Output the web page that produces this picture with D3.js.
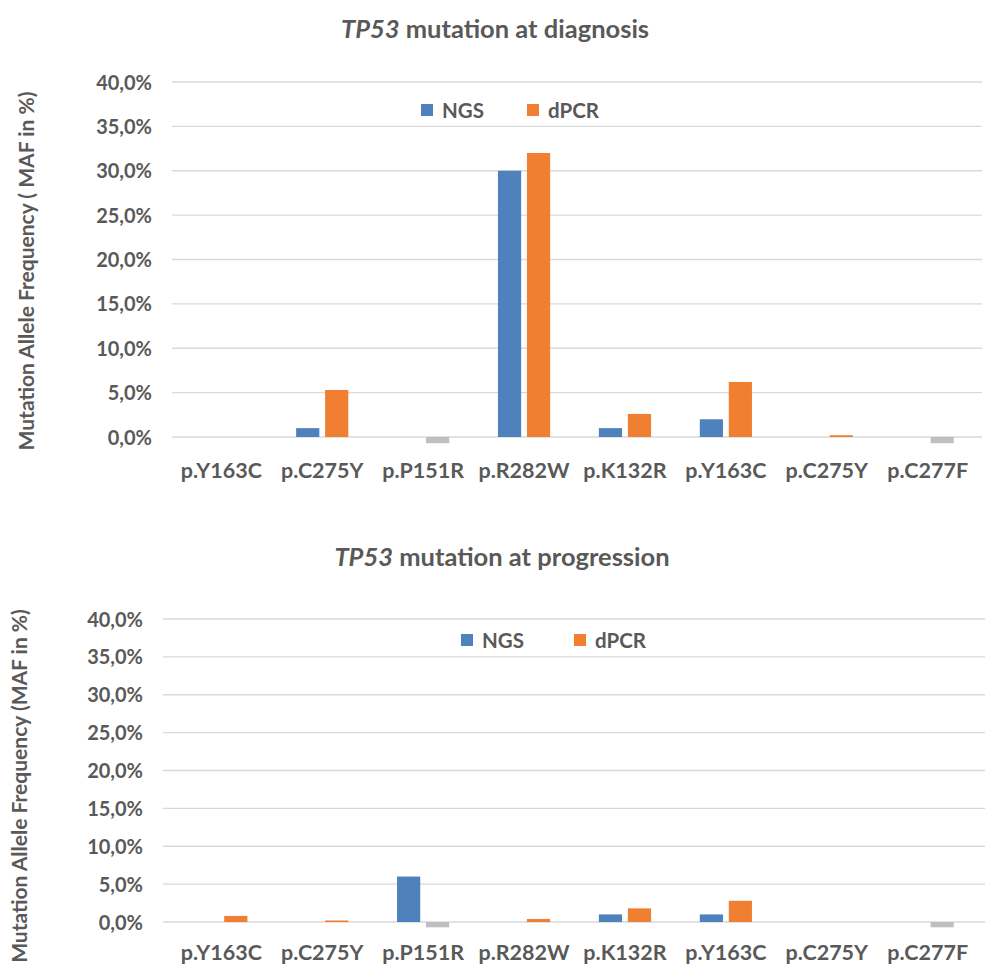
<!DOCTYPE html>
<html>
<head>
<meta charset="utf-8">
<script src="https://cdn.jsdelivr.net/npm/d3@7"></script>
<style>
  html, body { margin: 0; padding: 0; background: #ffffff; }
  svg { display: block; }
  text { font-family: Lato, "Open Sans", sans-serif; font-weight: 700; fill: #595959; }
</style>
</head>
<body>
<svg id="chart" width="989" height="964"></svg>
<script>
// Mutations, in the order shown along the x axis (the same mutation may appear twice)
const categories = ["p.Y163C", "p.C275Y", "p.P151R", "p.R282W", "p.K132R", "p.Y163C", "p.C275Y", "p.C277F"];
const seriesNames = ["NGS", "dPCR"];

// MAF in %, at diagnosis (negative dPCR value = not detected, drawn grey)
const diagnosisNGS  = [0, 1.0, 0, 30.0, 1.0, 2.0, 0, 0];
const diagnosisDPCR = [0, 5.3, -0.7, 32.0, 2.6, 6.2, 0.2, -0.7];

// MAF in %, at progression
const progressionNGS  = [0, 0, 6.0, 0, 1.0, 1.0, 0, 0];
const progressionDPCR = [0.8, 0.2, -0.7, 0.4, 1.8, 2.8, 0, -0.7];

const yTicks = [0, 5, 10, 15, 20, 25, 30, 35, 40];

const colors = { NGS: "#4f81bd", dPCR: "#f07f32", neg: "#bfbfbf" };
const fmt = v => d3.format(".1f")(v).replace(".", ",") + "%";

const svg = d3.select("#chart");

function drawPanel(cfg) {
  const g = svg.append("g");
  const x0 = d3.scaleBand()
    .domain(d3.range(categories.length))
    .range([172, 977])
    .paddingInner(0.483)
    .paddingOuter(0.23);
  const x1 = d3.scaleBand()
    .domain(seriesNames)
    .range([0, x0.bandwidth()])
    .paddingInner(0.2);
  const y = d3.scaleLinear().domain([0, 40]).range(cfg.yRange);

  // horizontal gridlines
  g.append("g").selectAll("line").data(yTicks).join("line")
    .attr("x1", cfg.gridX[0]).attr("x2", cfg.gridX[1])
    .attr("y1", d => y(d)).attr("y2", d => y(d))
    .attr("stroke", "#d9d9d9").attr("stroke-width", 1.3);

  // y axis labels
  const yAxis = d3.axisLeft(y).tickValues(yTicks).tickFormat(fmt).tickSize(0).tickPadding(0);
  const ya = g.append("g").attr("transform", `translate(${cfg.yLabelX},0)`).call(yAxis);
  ya.select(".domain").remove();
  ya.selectAll("text").attr("font-size", 20).attr("font-family", null).attr("fill", "#595959")
    .attr("dy", "0.35em");

  // x axis labels
  const xAxis = d3.axisBottom(x0).tickFormat(i => categories[i]).tickSize(0).tickPadding(0);
  const xa = g.append("g").attr("transform", `translate(0,${cfg.xLabelY})`).call(xAxis);
  xa.select(".domain").remove();
  xa.selectAll("text").attr("font-size", 21.5).attr("font-family", null).attr("fill", "#595959")
    .attr("dy", "0.35em");

  // bars
  const rows = categories.map((c, i) => ({ i, NGS: cfg.ngs[i], dPCR: cfg.dpcr[i] }));
  const groups = g.append("g").selectAll("g").data(rows).join("g")
    .attr("transform", d => `translate(${x0(d.i)},0)`);
  groups.selectAll("rect")
    .data(d => seriesNames.map(k => ({ key: k, value: d[k] })).filter(d => d.value !== 0))
    .join("rect")
    .attr("x", d => x1(d.key))
    .attr("width", x1.bandwidth())
    .attr("y", d => y(Math.max(0, d.value)))
    .attr("height", d => Math.abs(y(d.value) - y(0)))
    .attr("fill", d => d.value < 0 ? colors.neg : colors[d.key]);

  // title
  const t = g.append("text")
    .attr("x", cfg.titleX).attr("y", cfg.titleY)
    .attr("text-anchor", "middle").attr("dominant-baseline", "central")
    .attr("font-size", 25.5);
  t.append("tspan").attr("font-style", "italic").text("TP53");
  t.append("tspan").text(" " + cfg.title);

  // y axis title
  g.append("text")
    .attr("transform", `translate(${cfg.axisTitle[0]},${cfg.axisTitle[1]}) rotate(-90)`)
    .attr("text-anchor", "middle").attr("dominant-baseline", "central")
    .attr("font-size", 21)
    .text(cfg.axisTitleText);

  // legend
  const lg = g.append("g").attr("transform", `translate(${cfg.legend[0]},${cfg.legend[1]})`);
  const items = lg.selectAll("g").data(seriesNames).join("g")
    .attr("transform", (d, i) => `translate(${i * cfg.legendGap},0)`);
  items.append("rect").attr("x", 0).attr("y", -6).attr("width", 12).attr("height", 12)
    .attr("fill", d => colors[d]);
  items.append("text").attr("x", 21).attr("y", 0).attr("dominant-baseline", "central")
    .attr("font-size", 20.5).text(d => d);
}

drawPanel({
  ngs: diagnosisNGS, dpcr: diagnosisDPCR,
  yRange: [437, 82], gridX: [172, 982], yLabelX: 152, xLabelY: 470,
  title: "mutation at diagnosis", titleX: 495, titleY: 28,
  axisTitle: [25, 271], axisTitleText: "Mutation Allele Frequency ( MAF in %)",
  legend: [421, 110], legendGap: 106
});

drawPanel({
  ngs: progressionNGS, dpcr: progressionDPCR,
  yRange: [922, 619], gridX: [163, 985], yLabelX: 143, xLabelY: 952,
  title: "mutation at progression", titleX: 502, titleY: 556,
  axisTitle: [18, 786], axisTitleText: "Mutation Allele Frequency (MAF in %)",
  legend: [461, 640], legendGap: 113
});
</script>
</body>
</html>
